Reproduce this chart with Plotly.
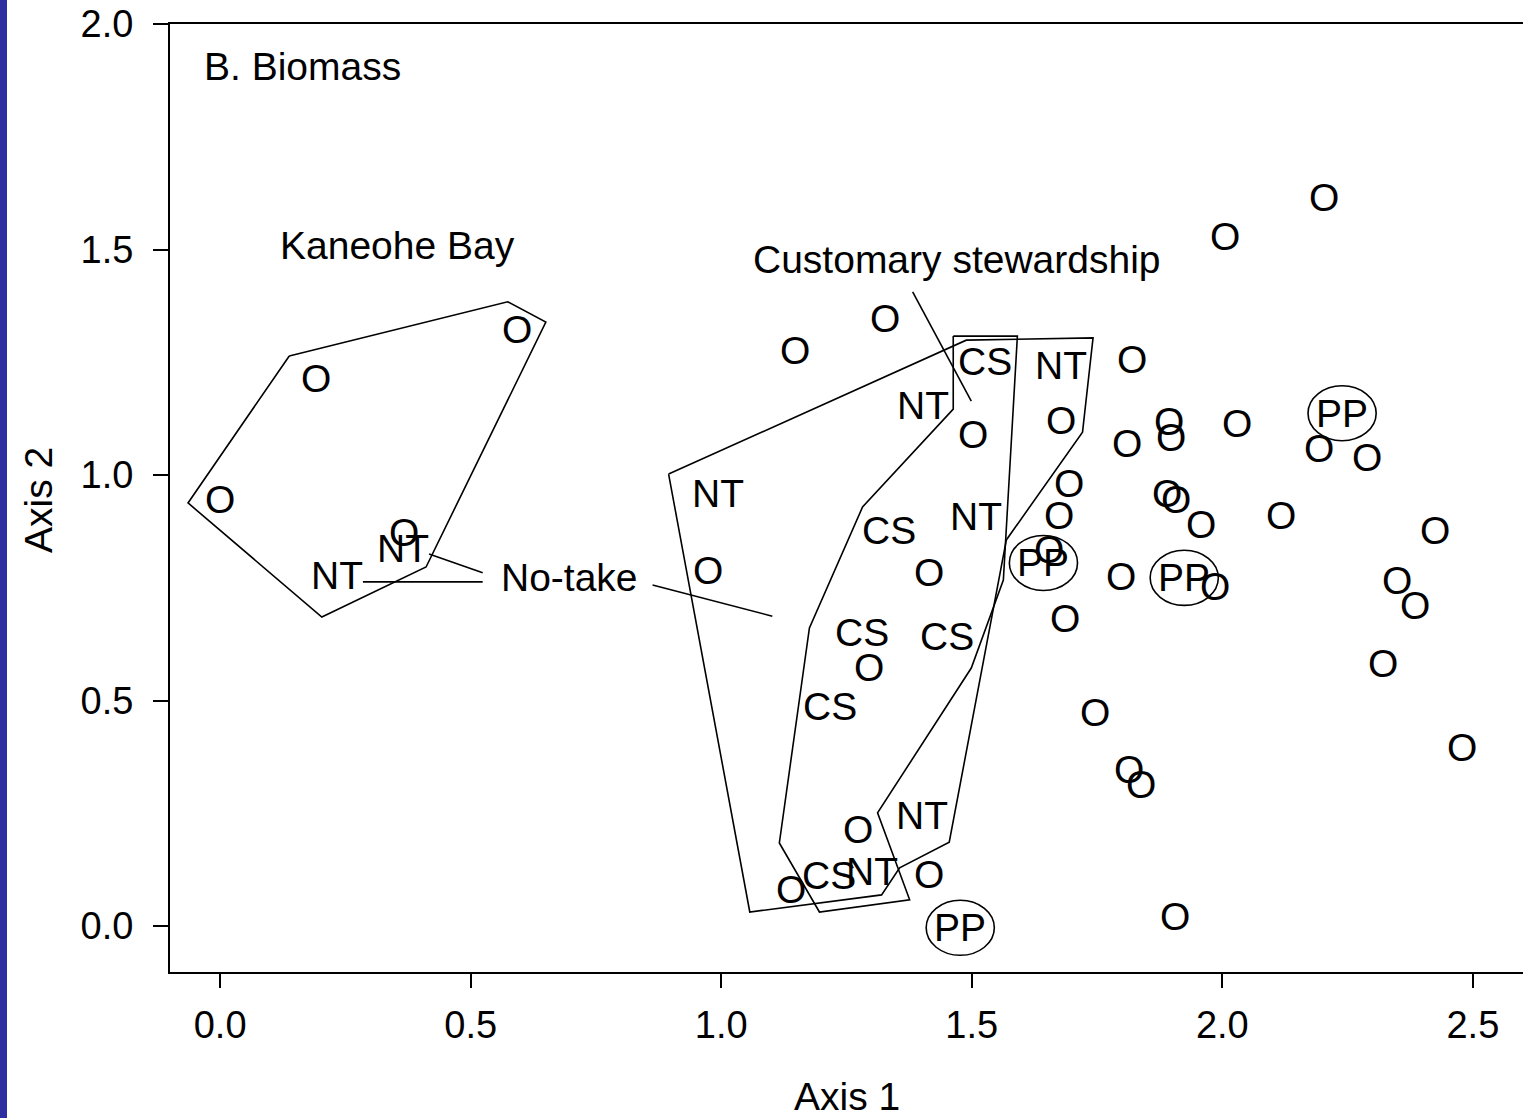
import plotly.graph_objects as go

# ---- data ----
o_x = [0.000, 0.191, 0.592, 0.367, 1.148, 1.326, 1.503, 0.973, 1.415, 1.294, 1.272, 1.415, 1.140,
       1.679, 1.695, 1.675, 1.655, 1.687, 1.746, 1.820, 1.810, 1.894, 1.898, 1.890, 1.908, 1.958,
       1.798, 1.986, 1.814, 1.838, 1.906, 2.006, 2.203, 2.030, 2.117, 2.193, 2.289, 2.424, 2.348,
       2.384, 2.321, 2.478]
o_y = [0.945, 1.213, 1.322, 0.873, 1.275, 1.346, 1.089, 0.789, 0.783, 0.574, 0.213, 0.115, 0.082,
       1.120, 0.982, 0.911, 0.835, 0.681, 0.474, 1.255, 1.069, 1.118, 1.084, 0.958, 0.945, 0.891,
       0.776, 0.752, 0.348, 0.313, 0.022, 1.528, 1.616, 1.115, 0.911, 1.058, 1.038, 0.876, 0.767,
       0.710, 0.581, 0.395]

nt_x = [0.233, 0.365, 1.402, 1.679, 0.993, 1.509, 1.400, 1.300]
nt_y = [0.778, 0.838, 1.155, 1.242, 0.960, 0.907, 0.246, 0.120]

cs_x = [1.527, 1.334, 1.280, 1.451, 1.218, 1.216]
cs_y = [1.251, 0.876, 0.650, 0.641, 0.486, 0.113]

pp_x = [1.477, 1.643, 1.924, 2.239]
pp_y = [-0.004, 0.805, 0.772, 1.137]

# outlines (group envelopes)
kb_hull_x = [0.138, 0.574, 0.650, 0.411, 0.203, -0.064, 0.138]
kb_hull_y = [1.264, 1.384, 1.339, 0.796, 0.685, 0.938, 1.264]

nt_hull_x = [0.895, 1.489, 1.742, 1.721, 1.569, 1.455, 1.356, 1.320, 1.057, 0.895]
nt_hull_y = [1.002, 1.299, 1.304, 1.095, 0.856, 0.186, 0.129, 0.069, 0.031, 1.002]

cs_hull_x = [1.463, 1.591, 1.563, 1.499, 1.312, 1.376, 1.196, 1.116, 1.176, 1.282, 1.463, 1.463]
cs_hull_y = [1.308, 1.308, 0.767, 0.572, 0.251, 0.058, 0.031, 0.184, 0.661, 0.929, 1.146, 1.308]

# leader lines (None separates segments)
lead_x = [1.382, 1.499, None, 0.524, 0.417, None, 0.524, 0.285, None, 0.863, 1.102]
lead_y = [1.406, 1.164, None, 0.783, 0.825, None, 0.763, 0.763, None, 0.756, 0.687]

FONT = "Liberation Sans, Arial, Helvetica, sans-serif"
FS_TEXT = 39
FS_TICK = 38
BLACK = "#000000"

fig = go.Figure()

for hx, hy in [(kb_hull_x, kb_hull_y), (nt_hull_x, nt_hull_y), (cs_hull_x, cs_hull_y)]:
    fig.add_trace(go.Scatter(x=hx, y=hy, mode="lines",
                             line=dict(color=BLACK, width=1.6), hoverinfo="skip", showlegend=False))

fig.add_trace(go.Scatter(x=lead_x, y=lead_y, mode="lines",
                         line=dict(color=BLACK, width=1.6), hoverinfo="skip", showlegend=False))

# site labels, placed in data coordinates
for xs, ys, lab in [(o_x, o_y, "O"), (nt_x, nt_y, "NT"), (cs_x, cs_y, "CS"), (pp_x, pp_y, "PP")]:
    for px, py in zip(xs, ys):
        fig.add_annotation(x=px, y=py, xref="x", yref="y", text=lab, showarrow=False,
                           xanchor="center", yanchor="middle",
                           font=dict(family=FONT, size=FS_TEXT, color=BLACK))

# ellipses around PP sites
rx, ry = 0.068, 0.061
for px, py in zip(pp_x, pp_y):
    fig.add_shape(type="circle", xref="x", yref="y",
                  x0=px - rx, x1=px + rx, y0=py - ry, y1=py + ry,
                  line=dict(color=BLACK, width=1.6))

# blue strip at the very left of the page
W_PLOT, H_PLOT = 1353, 948
fig.add_shape(type="rect", xref="paper", yref="paper",
              x0=-170 / W_PLOT, x1=-163 / W_PLOT, y0=-146 / H_PLOT, y1=(H_PLOT + 24) / H_PLOT,
              fillcolor="#2E2EA0", line=dict(width=0), layer="above")

annots = [
    dict(x=-0.036, y=1.905, xref="x", yref="y", text="B. Biomass", xanchor="left"),
    dict(x=0.353, y=1.508, xref="x", yref="y", text="Kaneohe Bay"),
    dict(x=1.469, y=1.477, xref="x", yref="y", text="Customary stewardship"),
    dict(x=0.698, y=0.772, xref="x", yref="y", text="No-take"),
    dict(x=(847 - 170) / W_PLOT, y=-(1096 - 972) / H_PLOT, xref="paper", yref="paper", text="Axis 1"),
    dict(x=-(170 - 38) / W_PLOT, y=(972 - 500) / H_PLOT, xref="paper", yref="paper", text="Axis 2",
         textangle=-90),
]
for a in annots:
    a.setdefault("xanchor", "center")
    fig.add_annotation(showarrow=False, yanchor="middle",
                       font=dict(family=FONT, size=FS_TEXT, color=BLACK), **a)

fig.update_layout(
    width=1523, height=1118,
    margin=dict(l=170, r=0, t=24, b=146, pad=0),
    paper_bgcolor="white", plot_bgcolor="white",
    font=dict(family=FONT, size=FS_TICK, color=BLACK),
    showlegend=False,
)
fig.update_xaxes(range=[-0.1, 2.6], tickvals=[0.0, 0.5, 1.0, 1.5, 2.0, 2.5],
                 ticktext=["0.0", "0.5", "1.0", "1.5", "2.0", "2.5"],
                 showgrid=False, zeroline=False, showline=True, linecolor=BLACK, linewidth=2,
                 mirror=True, ticks="outside", ticklen=14, tickwidth=2, tickcolor=BLACK,
                 ticklabelstandoff=4,
                 tickfont=dict(family=FONT, size=FS_TICK, color=BLACK))
fig.update_yaxes(range=[-0.102, 2.0], tickvals=[0.0, 0.5, 1.0, 1.5, 2.0],
                 ticktext=["0.0", "0.5", "1.0", "1.5", "2.0"],
                 showgrid=False, zeroline=False, showline=True, linecolor=BLACK, linewidth=2,
                 ticks="outside", ticklen=15, tickwidth=2, tickcolor=BLACK,
                 ticklabelstandoff=12,
                 tickfont=dict(family=FONT, size=FS_TICK, color=BLACK))

fig.write_html("out.html")
